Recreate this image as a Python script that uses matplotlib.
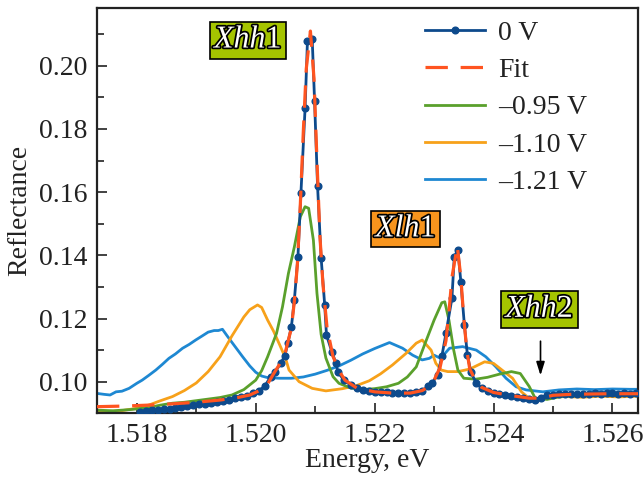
import numpy as np
import matplotlib
matplotlib.use("Agg")
import matplotlib.pyplot as plt
import matplotlib.patheffects as pe
from matplotlib.ticker import MultipleLocator, FormatStrFormatter

plt.rcParams['font.family'] = ['Liberation Serif', 'DejaVu Serif']
plt.rcParams['mathtext.fontset'] = 'custom'
plt.rcParams['mathtext.rm'] = 'Liberation Serif'
plt.rcParams['mathtext.it'] = 'Liberation Serif:italic'

# 0 V measured spectrum
e_0v = [1.51805, 1.51815, 1.51825, 1.51835, 1.51845, 1.51855, 1.51865, 1.51875,
        1.51885, 1.51895, 1.51905, 1.51915, 1.51925, 1.51935, 1.51945, 1.51955,
        1.51965, 1.51975, 1.51985, 1.51995, 1.52005, 1.52015, 1.52025, 1.52033,
        1.52042, 1.52049, 1.52054, 1.52060, 1.52065, 1.52071, 1.52076, 1.52083,
        1.52087, 1.52095, 1.52099, 1.52104, 1.52110, 1.52116, 1.52119, 1.52128,
        1.52135, 1.52138, 1.52148, 1.52160, 1.52170, 1.52180, 1.52190, 1.52200,
        1.52210, 1.52220, 1.52230, 1.52240, 1.52250, 1.52260, 1.52270, 1.52280,
        1.52290, 1.52297, 1.52306, 1.52313, 1.52320, 1.52330, 1.52334, 1.52340,
        1.52345, 1.52351, 1.52356, 1.52362, 1.52371, 1.52380, 1.52390, 1.52400,
        1.52410, 1.52420, 1.52430, 1.52440, 1.52450, 1.52460, 1.52470, 1.52480,
        1.52490, 1.52500, 1.52510, 1.52520, 1.52530, 1.52540, 1.52550, 1.52560,
        1.52570, 1.52580, 1.52590, 1.52600, 1.52610, 1.52620, 1.52630, 1.52640]
r_0v = [0.0905, 0.0907, 0.0909, 0.0911, 0.0913, 0.0915, 0.0918, 0.0920,
        0.0923, 0.0926, 0.0929, 0.0931, 0.0934, 0.0937, 0.0940, 0.0943,
        0.0947, 0.0951, 0.0956, 0.0963, 0.0972, 0.0985, 0.1016, 0.1032,
        0.1058, 0.1082, 0.1122, 0.1174, 0.1259, 0.1396, 0.1596, 0.1865,
        0.2079, 0.2085, 0.1888, 0.1619, 0.1392, 0.1243, 0.1148, 0.1095,
        0.1058, 0.1032, 0.1005, 0.0990, 0.0980, 0.0975, 0.0971, 0.0968,
        0.0967, 0.0966, 0.0965, 0.0964, 0.0963, 0.0964, 0.0966, 0.0972,
        0.0985, 0.0997, 0.1021, 0.1080, 0.1153, 0.1264, 0.1396, 0.1417,
        0.1317, 0.1179, 0.1085, 0.1030, 0.0995, 0.0980, 0.0972, 0.0965,
        0.0961, 0.0958, 0.0955, 0.0952, 0.0949, 0.0946, 0.0943, 0.0950,
        0.0957, 0.0958, 0.0960, 0.0961, 0.0961, 0.0962, 0.0961, 0.0962,
        0.0963, 0.0962, 0.0963, 0.0963, 0.0962, 0.0963, 0.0962, 0.0963]

# fit curve
e_fit = [1.51733, 1.5178, 1.5182, 1.5186, 1.5190, 1.5194, 1.5197, 1.5199,
         1.5201, 1.5202, 1.5203, 1.5204, 1.5205, 1.5206, 1.52065, 1.5207,
         1.52075, 1.5208, 1.52085, 1.52092, 1.52098, 1.52103, 1.52108, 1.52113,
         1.5212, 1.5213, 1.5214, 1.5215, 1.5217, 1.5220, 1.5223, 1.5226,
         1.5228, 1.5229, 1.5230, 1.5231, 1.5232, 1.52325, 1.5233, 1.52339,
         1.52345, 1.5235, 1.52355, 1.5236, 1.5237, 1.5238, 1.5240, 1.5243,
         1.5246, 1.5248, 1.5250, 1.5253, 1.5256, 1.5260, 1.52643]
r_fit = [0.0921, 0.0923, 0.0926, 0.0930, 0.0935, 0.0942, 0.0950, 0.0958,
         0.0975, 0.0993, 0.1025, 0.1055, 0.1095, 0.1170, 0.1255, 0.1370,
         0.1560, 0.1790, 0.1990, 0.2110, 0.1960, 0.1700, 0.1460, 0.1310,
         0.1170, 0.1080, 0.1035, 0.1005, 0.0980, 0.0968, 0.0964, 0.0964,
         0.0972, 0.0983, 0.1005, 0.1045, 0.1130, 0.1220, 0.1330, 0.1430,
         0.1330, 0.1200, 0.1100, 0.1040, 0.1003, 0.0982, 0.0966, 0.0956,
         0.0948, 0.0948, 0.0957, 0.0960, 0.0961, 0.0962, 0.0962]

# -0.95 V
e_095 = [1.51733, 1.5176, 1.5179, 1.5182, 1.5184, 1.5186, 1.5188, 1.5190,
         1.5192, 1.5194, 1.5196, 1.5198, 1.5199, 1.5200, 1.5201, 1.5202,
         1.52035, 1.52045, 1.52055, 1.52065, 1.52075, 1.52083, 1.52089, 1.52097,
         1.52103, 1.5211, 1.52118, 1.5213, 1.5214, 1.5216, 1.5218, 1.5220,
         1.5222, 1.5224, 1.52255, 1.5227, 1.52285, 1.5230, 1.52313, 1.52318,
         1.52325, 1.52333, 1.5234, 1.5235, 1.5237, 1.5239, 1.5241, 1.5243,
         1.52445, 1.5246, 1.5247, 1.5249, 1.5251, 1.5254, 1.5257, 1.5260,
         1.5263, 1.52643]
r_095 = [0.0910, 0.0908, 0.0912, 0.0918, 0.0926, 0.0932, 0.0935, 0.0940,
         0.0945, 0.0950, 0.0958, 0.0975, 0.0990, 0.1005, 0.1035, 0.1079,
         0.1153, 0.1237, 0.1343, 0.1427, 0.1522, 0.1554, 0.1549, 0.1448,
         0.1280, 0.1150, 0.1075, 0.1016, 0.0995, 0.0980, 0.0975, 0.0978,
         0.0984, 0.0995, 0.1015, 0.1047, 0.1122, 0.1195, 0.1250, 0.1253,
         0.1195, 0.1100, 0.1037, 0.1011, 0.1008, 0.1014, 0.1024, 0.1032,
         0.1026, 0.0985, 0.0948, 0.0944, 0.0952, 0.0956, 0.0958, 0.0957,
         0.0958, 0.0957]

# -1.10 V
e_110 = [1.51733, 1.5177, 1.5180, 1.5182, 1.5184, 1.5186, 1.5188, 1.5190,
         1.5192, 1.5194, 1.5196, 1.5198, 1.5199, 1.52003, 1.5201, 1.5202,
         1.5203, 1.5204, 1.5205, 1.52056, 1.52073, 1.52095, 1.52118, 1.52146,
         1.52170, 1.52191, 1.5221, 1.5223, 1.52253, 1.5227, 1.5228, 1.52295,
         1.52303, 1.52312, 1.52323, 1.5234, 1.5236, 1.52385, 1.5240, 1.52421,
         1.52432, 1.52447, 1.5246, 1.5247, 1.5249, 1.5252, 1.5255, 1.5258,
         1.5261, 1.52643]
r_110 = [0.0905, 0.0907, 0.0916, 0.0926, 0.0940, 0.0953, 0.0972, 0.0996,
         0.1032, 0.1079, 0.1145, 0.1205, 0.1228, 0.1243, 0.1235, 0.1195,
         0.1160, 0.1118, 0.1075, 0.1037, 0.1000, 0.0979, 0.0971, 0.0978,
         0.0988, 0.1003, 0.1025, 0.1053, 0.1090, 0.1122, 0.1132, 0.1100,
         0.1058, 0.1037, 0.1032, 0.1032, 0.1040, 0.1063, 0.1058, 0.1027,
         0.1011, 0.0968, 0.0947, 0.0942, 0.0950, 0.0953, 0.0951, 0.0954,
         0.0952, 0.0954]

# -1.21 V
e_121 = [1.51733, 1.51745, 1.51755, 1.51765, 1.51775, 1.51787, 1.5180, 1.51809,
         1.5182, 1.51832, 1.51843, 1.51854, 1.51865, 1.51877, 1.51888, 1.51899,
         1.51910, 1.51920, 1.51930, 1.51937, 1.51944, 1.51952, 1.51961, 1.51978,
         1.5199, 1.5200, 1.5201, 1.5202, 1.5204, 1.5206, 1.5208, 1.5210,
         1.5212, 1.5214, 1.5216, 1.5218, 1.5220, 1.52225, 1.52247, 1.52264,
         1.5228, 1.52292, 1.5230, 1.52311, 1.52326, 1.52348, 1.52371, 1.52387,
         1.52404, 1.52421, 1.52438, 1.52455, 1.52483, 1.5251, 1.5254, 1.5257,
         1.5260, 1.5263, 1.52643]
r_121 = [0.0963, 0.0960, 0.0958, 0.0968, 0.0970, 0.0979, 0.0995, 0.1005,
         0.1020, 0.1037, 0.1055, 0.1074, 0.1088, 0.1106, 0.1118, 0.1132,
         0.1145, 0.1157, 0.1162, 0.1162, 0.1166, 0.1145, 0.1122, 0.1079,
         0.1050, 0.1030, 0.1018, 0.1013, 0.1011, 0.1011, 0.1015, 0.1024,
         0.1036, 0.1050, 0.1068, 0.1088, 0.1105, 0.1124, 0.1106, 0.1084,
         0.1069, 0.1074, 0.1084, 0.1074, 0.1106, 0.1111, 0.1100, 0.1079,
         0.1047, 0.1011, 0.0984, 0.0974, 0.0968, 0.0974, 0.0977, 0.0975,
         0.0977, 0.0976, 0.0976]

fig = plt.figure(figsize=(6.44, 4.79), dpi=100)
ax = fig.add_axes([0.1506, 0.1378, 0.8401, 0.8455])

ax.plot(e_121, r_121, color='#1e88d2', lw=2, label='\u20131.21 V', zorder=2)
ax.plot(e_110, r_110, color='#f7a11a', lw=2, label='\u20131.10 V', zorder=2)
ax.plot(e_095, r_095, color='#5aa02c', lw=2, label='\u20130.95 V', zorder=2)
ax.plot(e_0v, r_0v, color='#0d4a8c', lw=2, marker='o', ms=4.8, label='0 V', zorder=3)
ax.plot(e_fit, r_fit, color='#ff5420', lw=2.3, dashes=(7, 4), label='Fit', zorder=4)

ax.set_xlim(1.51733, 1.52643)
ax.set_ylim(0.0901, 0.2183)
ax.xaxis.set_major_locator(MultipleLocator(0.002))
ax.xaxis.set_minor_locator(MultipleLocator(0.001))
ax.yaxis.set_major_locator(MultipleLocator(0.02))
ax.yaxis.set_minor_locator(MultipleLocator(0.01))
ax.xaxis.set_major_formatter(FormatStrFormatter('%.3f'))
ax.yaxis.set_major_formatter(FormatStrFormatter('%.2f'))
ax.tick_params(which='both', direction='in', labelsize=20, width=1.2,
               color='#222222', labelcolor='#222222')
ax.tick_params(which='major', length=7, pad=7)
ax.tick_params(which='minor', length=5)
for s in ax.spines.values():
    s.set_linewidth(1.6)
    s.set_color('#222222')

ax.set_xlabel('Energy, eV', fontsize=20, labelpad=0, color='#222222')
ax.set_ylabel('Reflectance', fontsize=20, labelpad=5, color='#222222')

h, l = ax.get_legend_handles_labels()
order = [3, 4, 2, 1, 0]
ax.legend([h[i] for i in order], [l[i] for i in order], loc='upper left',
          bbox_to_anchor=(0.584, 1.0), frameon=False, fontsize=20, numpoints=1,
          handlelength=2.15, labelspacing=0.43, handletextpad=0.47,
          borderaxespad=0, borderpad=0.44, labelcolor='#222222')

stroke = [pe.withStroke(linewidth=2.5, foreground='black')]
ax.text(1.519875, 0.2081, r'$\mathit{Xhh}$1', fontsize=23, color='white',
        ha='center', va='center', path_effects=stroke,
        bbox=dict(boxstyle='square,pad=0.12', fc='#a5c400', ec='black', lw=1.2))
ax.text(1.522525, 0.1483, r'$\mathit{Xlh}$1', fontsize=23, color='white',
        ha='center', va='center', path_effects=stroke,
        bbox=dict(boxstyle='square,pad=0.12', fc='#f7941d', ec='black', lw=1.2))
ax.text(1.524776, 0.12285, r'$\mathit{Xhh2}$', fontsize=23, color='white',
        ha='center', va='center', path_effects=stroke,
        bbox=dict(boxstyle='square,pad=0.12', fc='#a5c400', ec='black', lw=1.2))
ax.annotate('', xy=(1.52479, 0.1011), xytext=(1.52479, 0.1137),
            arrowprops=dict(arrowstyle='-|>,head_width=0.25,head_length=0.8',
                            color='black', lw=1.2))

fig.savefig('out.png', dpi=100)
